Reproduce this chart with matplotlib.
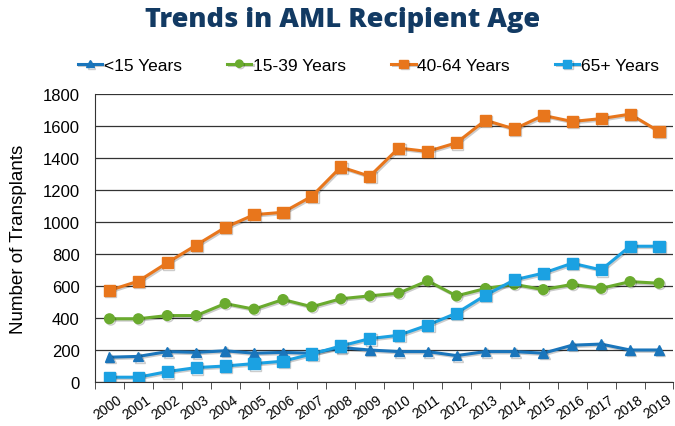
import numpy as np
import matplotlib.pyplot as plt
import matplotlib.patheffects as pe
from matplotlib.transforms import ScaledTranslation

years = [str(y) for y in range(2000, 2020)]
under15 = [155, 160, 190, 185, 195, 180, 185, 180, 215, 200, 190, 190, 165, 190, 190, 180, 230, 237, 200, 200]
age15_39 = [395, 395, 415, 415, 490, 455, 515, 470, 520, 538, 555, 632, 538, 584, 610, 577, 610, 585, 627, 617]
age40_64 = [572, 630, 745, 855, 965, 1045, 1060, 1160, 1343, 1285, 1461, 1440, 1494, 1635, 1580, 1665, 1627, 1645, 1673, 1565]
age65 = [30, 30, 65, 90, 100, 115, 130, 175, 225, 271, 292, 355, 430, 542, 638, 680, 742, 700, 848, 848]

fig = plt.figure(figsize=(6.75, 4.27), dpi=100)
ax = fig.add_axes([0.1407, 0.103, 0.857, 0.675])

x = np.arange(len(years))
shadow = [pe.SimpleLineShadow(offset=(1, -1), alpha=0.2), pe.Normal()]
series = [
    ("<15 Years", under15, "#1a75bb", "^", 7),
    ("15-39 Years", age15_39, "#6aab2e", "o", 7),
    ("40-64 Years", age40_64, "#e8761c", "s", 8),
    ("65+ Years", age65, "#1ba1e2", "s", 8),
]
for name, vals, col, mk, ms in series:
    ax.plot(x, vals, color=col, marker=mk, markersize=ms, linewidth=2.2,
            label=name, path_effects=shadow)

ax.set_xlim(-0.5, len(years) - 0.5)
ax.set_ylim(0, 1800)
ax.set_yticks(range(0, 1801, 200))
ax.grid(axis="y", color="#333333", linewidth=0.9)
ax.set_axisbelow(True)
for s in ["top", "right"]:
    ax.spines[s].set_visible(False)
ax.spines["left"].set_color("#333333")
ax.spines["bottom"].set_color("#333333")
ax.tick_params(axis="y", labelsize=12, length=0, pad=11, labelfontfamily="Liberation Sans")

ax.set_xticks(x)
ax.set_xticklabels(years, rotation=35, fontsize=10, fontfamily="Liberation Sans",
                   ha="right", rotation_mode="anchor")
ax.tick_params(axis="x", which="major", length=0, pad=7)
offset = ScaledTranslation(5 / 72, 0, fig.dpi_scale_trans)
for lbl in ax.get_xticklabels():
    lbl.set_transform(lbl.get_transform() + offset)
ax.set_xticks(np.arange(-0.5, len(years), 1), minor=True)
ax.tick_params(axis="x", which="minor", length=5, direction="out", color="#333333")

ax.set_ylabel("Number of Transplants", fontsize=13.5, fontfamily="Liberation Sans")
ax.yaxis.set_label_coords(-0.118, 0.5)

fig.text(0.507, 0.953, "Trends in AML Recipient Age", ha="center", va="center",
         fontsize=19.5, fontweight="heavy", color="#123a63", fontfamily="Open Sans")

fig.legend(loc="center", bbox_to_anchor=(0.546, 0.845), ncol=4, frameon=False,
           prop={"family": "Liberation Sans", "size": 12.5}, handlelength=1.4,
           handletextpad=0.1, columnspacing=2.6, markerscale=0.75)

fig.savefig("out.png", dpi=100)
